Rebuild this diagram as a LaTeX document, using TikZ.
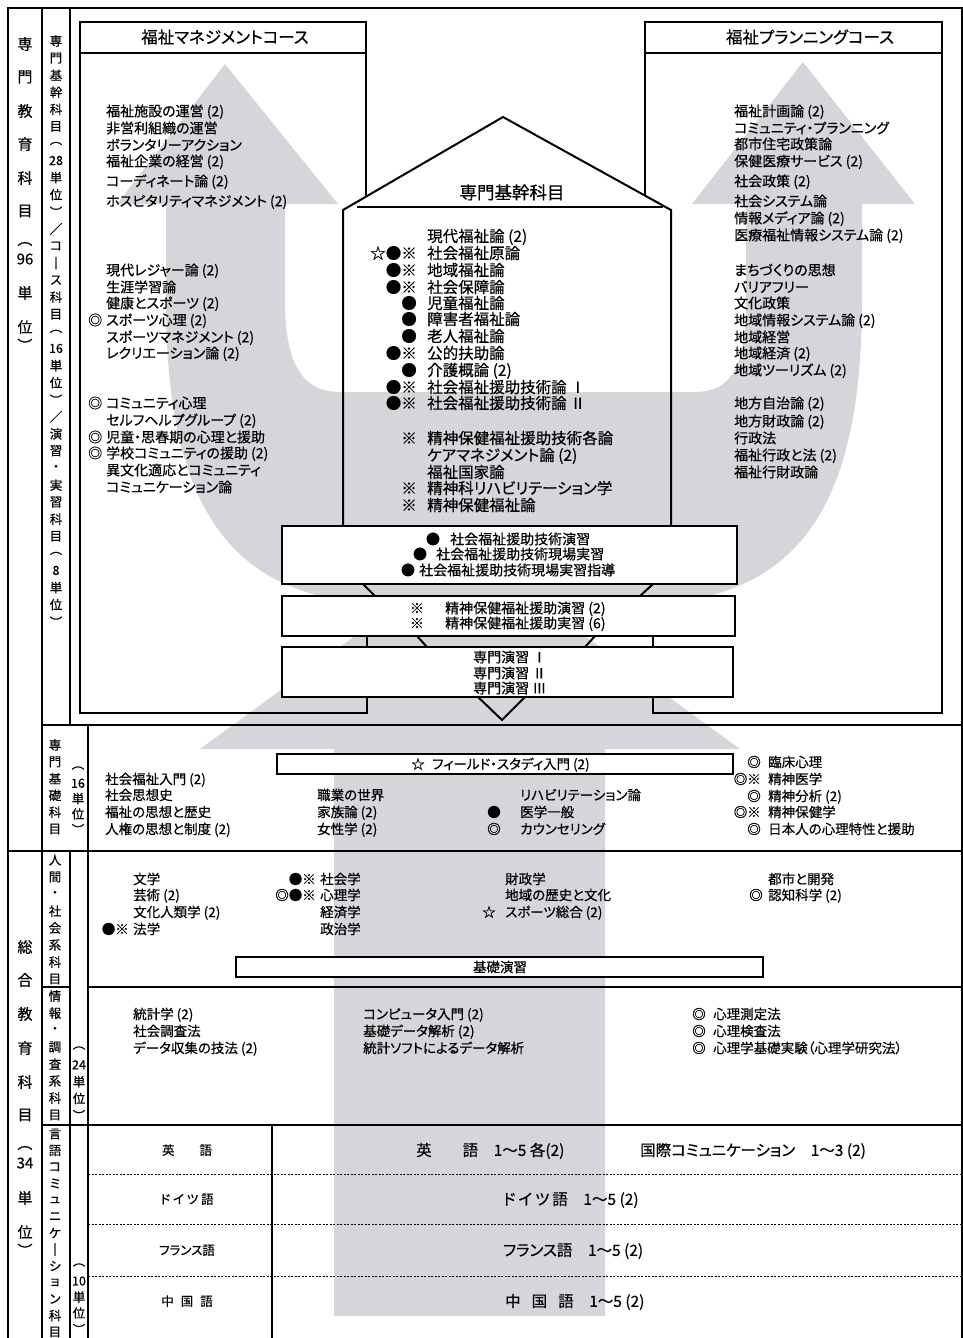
\documentclass[tikz,border=0pt]{standalone}
\usepackage{fontspec}
\setmainfont{Noto Sans CJK JP}[RawFeature=+palt, RawFeature={embolden=0.5}]
\definecolor{greyc}{RGB}{212,214,218}
\tikzset{
  tl/.style={inner sep=0pt, anchor=base west, font=\fontsize{14}{16}\selectfont, yshift=-5.3pt},
  tc/.style={inner sep=0pt, anchor=base west, font=\fontsize{15.5}{17}\selectfont, yshift=-5.9pt},
  tb/.style={inner sep=0pt, anchor=base west, font=\fontsize{13.5}{15}\selectfont, yshift=-5.1pt},
  tg/.style={inner sep=0pt, anchor=base west, font=\fontsize{15.5}{17}\selectfont, yshift=-5.9pt},
  tlab/.style={inner sep=0pt, anchor=base, font=\fontsize{12.5}{14}\selectfont, yshift=-4.8pt},
  ttl/.style={inner sep=0pt, anchor=base, font=\fontsize{16.5}{18}\selectfont, yshift=-6.3pt},
  vt/.style={inner sep=0pt, font=\fontsize{12.5}{13}\selectfont},
  vb/.style={inner sep=0pt, font=\fontsize{15}{16}\selectfont},
  frame/.style={line width=1.5pt},
  course/.style={line width=2.6pt},
  house/.style={line width=2pt},
  sbox/.style={draw, line width=1.8pt, fill=white},
  dline/.style={line width=0.8pt, dash pattern=on 2pt off 1.5pt},
}
\newcommand\vcol[5]{\foreach \ch [count=\k from 0] in {#5} {\node[vt, name=#1\k] at (#2,#3+#4*\k) {\ch};}}
\begin{document}
\begin{tikzpicture}[x=1pt,y=-1pt]
\useasboundingbox (0,0) rectangle (963,1338);
% grey arrows
\fill[greyc] (166,204) -- (117,204) -- (225,64) -- (338,204) -- (285,204) -- (285,300)
  .. controls (285,360) and (300,392) .. (340,392) -- (695,392)
  .. controls (735,392) and (746,360) .. (746,300) -- (746,204) -- (692,204) -- (803,62) -- (915,204) -- (862,204) -- (862,300)
  .. controls (862,520) and (790,605) .. (628,605) -- (400,605)
  .. controls (238,605) and (166,520) .. (166,300) -- cycle;
\fill[greyc] (334,1316) -- (334,749) -- (200,749) -- (470,552) -- (740,749) -- (605,749) -- (605,1316) -- cycle;
% table frame
\draw[frame] (8,8) rectangle (962,1345);
\draw[frame] (42,8) -- (42,1345);
\draw[frame] (70,8) -- (70,725);
\draw[frame] (42,725) -- (962,725);
\draw[frame] (88,725) -- (88,1345);
\draw[frame] (8,851) -- (962,851);
\draw[frame] (70,851) -- (70,1345);
\draw[frame] (42,987) -- (70,987);
\draw[frame] (88,987) -- (962,987);
\draw[frame] (42,1125) -- (962,1125);
\draw[frame] (272,1125) -- (272,1345);
\draw[dline] (88,1174) -- (962,1174);
\draw[dline] (88,1224) -- (962,1224);
\draw[dline] (88,1276) -- (962,1276);
% course boxes
\draw[course] (366,196) -- (366,22) -- (80,22) -- (80,713) -- (367,713) -- (367,636);
\draw[course] (80,53) -- (366,53);
\draw[course] (645,195) -- (645,22) -- (942,22) -- (942,713) -- (653,713) -- (653,636);
\draw[course] (645,53) -- (942,53);
% house
\draw[house] (343,525) -- (343,210) -- (503,117) -- (671,210) -- (671,525);
\draw[house] (357,207) -- (663,207);
% funnel boxes
\draw[sbox] (282,526) rectangle (737,584);
\draw[sbox] (282,596) rectangle (735,636);
\draw[sbox] (282,647) rectangle (733,697);
\draw[house] (363,584) -- (375,596);
\draw[house] (653,584) -- (640,596);
\draw[house] (417,636) -- (427,647);
\draw[house] (595,636) -- (585,647);
\draw[house] (478,697) -- (502,720) -- (525,697);
\draw[sbox, line width=1.5pt] (277,754) rectangle (733,774);
\draw[sbox, line width=1.5pt] (236,957) rectangle (763,977);
% titles
\node[ttl] (t1) at (225,37) {福祉マネジメントコース};
\node[ttl] (t2) at (810,37) {福祉プランニングコース};
\node[ttl, font=\fontsize{17.5}{19}\selectfont, yshift=-6.7pt] (t3) at (512,186) {専門基幹科目};
% left course list
\foreach \yy/\tx [count=\i] in {111/福祉施設の運営 (2), 128/非営利組織の運営, 145/ボランタリーアクション, 161/福祉企業の経営 (2), 181/コーディネート論 (2), 201/ホスピタリティマネジメント (2), 270/現代レジャー論 (2), 287/生涯学習論, 303/健康とスポーツ (2), 320/スポーツ心理 (2), 337/スポーツマネジメント (2), 353/レクリエーション論 (2), 403/コミュニティ心理, 420/セルフヘルプグループ (2), 437/児童・思春期の心理と援助, 453/学校コミュニティの援助 (2), 470/異文化適応とコミュニティ, 487/コミュニケーション論}
  {\node[tl] (ml\i) at (106,\yy) {\tx};}
\foreach \yy [count=\i] in {320,403,437,453} {\node[tl] (mlm\i) at (88,\yy) {◎};}
% right course list
\foreach \yy/\tx [count=\i] in {111/福祉計画論 (2), 128/コミュニティ・プランニング, 144/都市住宅政策論, 161/保健医療サービス (2), 181/社会政策 (2), 201/社会システム論, 218/情報メディア論 (2), 235/医療福祉情報システム論 (2), 270/まちづくりの思想, 287/バリアフリー, 303/文化政策, 320/地域情報システム論 (2), 337/地域経営, 353/地域経済 (2), 370/地域ツーリズム (2), 403/地方自治論 (2), 421/地方財政論 (2), 438/行政法, 455/福祉行政と法 (2), 472/福祉行財政論}
  {\node[tl] (mr\i) at (734,\yy) {\tx};}
% center list
\foreach \yy/\tx [count=\i] in {236/現代福祉論 (2), 253/社会福祉原論, 270/地域福祉論, 287/社会保障論, 303/児童福祉論, 319/障害者福祉論, 336/老人福祉論, 353/公的扶助論, 370/介護概論 (2), 387/社会福祉援助技術論 Ⅰ, 403/社会福祉援助技術論 Ⅱ, 438/精神保健福祉援助技術各論, 455/ケアマネジメント論 (2), 472/福祉国家論, 488/精神科リハビリテーション学, 505/精神保健福祉論}
  {\node[tc] (mc\i) at (427,\yy) {\tx};}
\foreach \yy/\tx [count=\i] in {253/☆●※, 270/●※, 287/●※, 303/●, 319/●, 336/●, 353/●※, 370/●, 387/●※, 403/●※, 438/※, 488/※, 505/※}
  {\node[tc, anchor=base east] (mcm\i) at (417,\yy) {\tx};}
% box A, B, C
\node[tl] (a1) at (450,539) {社会福祉援助技術演習};
\node[tl] (a2) at (436,554) {社会福祉援助技術現場実習};
\node[tl] (a3) at (419,570) {社会福祉援助技術現場実習指導};
\node[tl, anchor=base] (a1m) at (433,539) {●};
\node[tl, anchor=base] (a2m) at (420,554) {●};
\node[tl, anchor=base] (a3m) at (408,570) {●};
\node[tl] (b1) at (445,608) {精神保健福祉援助演習 (2)};
\node[tl] (b2) at (445,623) {精神保健福祉援助実習 (6)};
\node[tl, anchor=base] (b1m) at (417,608) {※};
\node[tl, anchor=base] (b2m) at (417,623) {※};
\node[tl] (c1) at (473,657) {専門演習 Ⅰ};
\node[tl] (c2) at (473,673) {専門演習 Ⅱ};
\node[tl] (c3) at (473,688) {専門演習 Ⅲ};
% senmon kiso row
\node[tb, anchor=base] (fsm) at (418,764) {☆};
\node[tb] (fs) at (432,764) {フィールド・スタディ入門 (2)};
\foreach \yy/\tx [count=\i] in {779/社会福祉入門 (2), 795/社会思想史, 812/福祉の思想と歴史, 829/人権の思想と制度 (2)}
  {\node[tb] (k1\i) at (105,\yy) {\tx};}
\foreach \yy/\tx [count=\i] in {795/職業の世界, 812/家族論 (2), 829/女性学 (2)}
  {\node[tb] (k2\i) at (317,\yy) {\tx};}
\foreach \yy/\tx [count=\i] in {795/リハビリテーション論, 812/医学一般, 829/カウンセリング}
  {\node[tb] (k3\i) at (520,\yy) {\tx};}
\node[tb, anchor=base] (k3m1) at (494,812) {●};
\node[tb, anchor=base] (k3m2) at (494,829) {◎};
\foreach \yy/\tx [count=\i] in {762/臨床心理, 779/精神医学, 796/精神分析 (2), 812/精神保健学, 829/日本人の心理特性と援助}
  {\node[tb] (k4\i) at (768,\yy) {\tx};}
\foreach \yy/\tx [count=\i] in {762/◎, 779/◎※, 796/◎, 812/◎※, 829/◎}
  {\node[tb, anchor=base east] (k4m\i) at (761,\yy) {\tx};}
% ningen shakai row
\foreach \yy/\tx [count=\i] in {879/文学, 895/芸術 (2), 912/文化人類学 (2), 929/法学}
  {\node[tb] (h1\i) at (133,\yy) {\tx};}
\node[tb, anchor=base east] (h1m) at (129,929) {●※};
\foreach \yy/\tx [count=\i] in {879/社会学, 895/心理学, 912/経済学, 929/政治学}
  {\node[tb] (h2\i) at (320,\yy) {\tx};}
\node[tb, anchor=base east] (h2m1) at (316,879) {●※};
\node[tb, anchor=base east] (h2m2) at (316,895) {◎●※};
\foreach \yy/\tx [count=\i] in {879/財政学, 895/地域の歴史と文化, 912/スポーツ総合 (2)}
  {\node[tb] (h3\i) at (505,\yy) {\tx};}
\node[tb, anchor=base] (h3m) at (489,912) {☆};
\node[tb] (h41) at (768,879) {都市と開発};
\node[tb] (h42) at (768,895) {認知科学 (2)};
\node[tb, anchor=base] (h4m) at (756,895) {◎};
\node[tb, anchor=base] (kiso) at (500,967) {基礎演習};
% joho row
\foreach \yy/\tx [count=\i] in {1014/統計学 (2), 1031/社会調査法, 1048/データ収集の技法 (2)}
  {\node[tb] (j1\i) at (133,\yy) {\tx};}
\foreach \yy/\tx [count=\i] in {1014/コンピュータ入門 (2), 1031/基礎データ解析 (2), 1048/統計ソフトによるデータ解析}
  {\node[tb] (j2\i) at (363,\yy) {\tx};}
\foreach \yy/\tx [count=\i] in {1014/心理測定法, 1031/心理検査法, 1048/心理学基礎実験（心理学研究法）}
  {\node[tb] (j3\i) at (713,\yy) {\tx};}
\foreach \yy [count=\i] in {1014,1031,1048} {\node[tb, anchor=base] (j3m\i) at (699,\yy) {◎};}
% language rows
\node[tlab] (l1) at (187,1150) {英　　語};
\node[tlab] (l2) at (187,1199) {ド イ ツ 語};
\node[tlab] (l3) at (187,1250) {フランス語};
\node[tlab] (l4) at (187,1301) {中\hspace{7pt}国\hspace{7pt}語};
\node[tg] (g1) at (416,1150) {英　　語　1～5 各(2)};
\node[tg] (g2) at (640,1150) {国際コミュニケーション　1～3 (2)};
\node[tg] (g3) at (503,1199) {ド\hspace{3pt}イ\hspace{3pt}ツ\hspace{3pt}語　1～5 (2)};
\node[tg] (g4) at (503,1250) {フランス語　1～5 (2)};
\node[tg] (g5) at (505,1301) {中\hspace{11pt}国\hspace{11pt}語　1～5 (2)};
% vertical labels
\foreach \yy/\ch [count=\i] in {44/専, 77/門, 111/教, 144/育, 178/科, 211/目, 244/︵, 259/96, 293/単, 327/位, 345/︶}
  {\node[vb] (va\i) at (25,\yy) {\ch};}
\foreach \yy/\ch [count=\i] in {947/総, 980/合, 1014/教, 1048/育, 1082/科, 1115/目, 1148/︵, 1163/34, 1198/単, 1232/位, 1250/︶}
  {\node[vb] (vs\i) at (25,\yy) {\ch};}
\vcol{vk}{56}{41}{17.08}{専,門,基,幹,科,目,︵,28,単,位,︶,／,コ,｜,ス,科,目,︵,16,単,位,︶,／,演,習,・,実,習,科,目,︵,8,単,位,︶}
\vcol{vf}{55}{745}{16.8}{専,門,基,礎,科,目}
\vcol{vg}{78}{768}{15.3}{︵,16,単,位,︶}
\vcol{vh}{55}{860}{17}{人,間,・,社,会,系,科,目}
\vcol{vj}{55}{996}{17}{情,報,・,調,査,系,科,目}
\vcol{vu}{79}{1048}{16.8}{︵,24,単,位,︶}
\vcol{vl}{55}{1134}{16.5}{言,語,コ,ミ,ュ,ニ,ケ,｜,シ,ョ,ン,科,目}
\vcol{vm}{79}{1265}{16}{︵,10,単,位,︶}
\end{tikzpicture}
\end{document}
